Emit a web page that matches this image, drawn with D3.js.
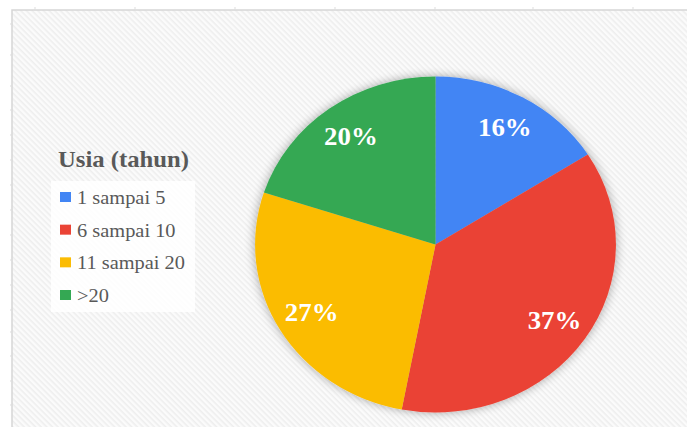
<!DOCTYPE html>
<html>
<head>
<meta charset="utf-8">
<script src="https://cdn.jsdelivr.net/npm/d3@7"></script>
<style>
  html, body { margin: 0; padding: 0; background: #ffffff; overflow: hidden; }
</style>
</head>
<body>
<div id="chart"></div>
<script>
let WIDTH = 687
let HEIGHT = 427

// data
let categories = ["1 sampai 5", "6 sampai 10", "11 sampai 20", ">20"]
let values = [16, 37, 27, 20]
let colors = ["#4285f4", "#ea4335", "#fbbc04", "#34a853"]
let legendTitle = "Usia (tahun)"
let topTicks = [35, 135, 235, 335, 435, 533, 633]
let leftTicks = [24, 55, 86, 110, 135, 160, 185, 210, 235, 260, 285, 310, 332, 356, 381, 405]

let FONT = '"Liberation Serif", monospace'
let STRETCH = 1.074   // the whole chart is a bit wider than tall
let cx = 435.5, cy = 244.5, R = 168

let svg = d3.select("#chart")
    .append('svg')
    .attr('width', WIDTH)
    .attr('height', HEIGHT)

let defs = svg.append('defs')

// diagonal stripes of the plot area
let pat = defs.append('pattern')
    .attr('id', 'stripes')
    .attr('width', 4)
    .attr('height', 4)
    .attr('patternUnits', 'userSpaceOnUse')
    .attr('patternTransform', 'rotate(45)')
pat.append('rect').attr('width', 4).attr('height', 4).attr('fill', '#fbfbfb')
pat.append('rect').attr('width', 4).attr('height', 1.6).attr('fill', '#eeeeee')

let shadow = defs.append('filter')
    .attr('id', 'shadow')
    .attr('x', '-20%').attr('y', '-20%')
    .attr('width', '140%').attr('height', '140%')
shadow.append('feGaussianBlur').attr('in', 'SourceAlpha').attr('stdDeviation', 5).attr('result', 'blur')
shadow.append('feComponentTransfer').append('feFuncA').attr('type', 'linear').attr('slope', 0.35)
let merge = shadow.append('feMerge')
merge.append('feMergeNode')
merge.append('feMergeNode').attr('in', 'SourceGraphic')

// frame + ruler ticks
svg.append('rect')
    .attr('x', 12).attr('y', 10)
    .attr('width', WIDTH).attr('height', HEIGHT)
    .attr('fill', 'url(#stripes)')
    .attr('stroke', '#d6d6d6')
    .attr('stroke-width', 1.5)

svg.selectAll('.ttick').data(topTicks).enter()
    .append('line')
    .attr('x1', d => d).attr('x2', d => d)
    .attr('y1', 7).attr('y2', 10)
    .attr('stroke', '#dddddd')
svg.selectAll('.ltick').data(leftTicks).enter()
    .append('line')
    .attr('x1', 10).attr('x2', 12)
    .attr('y1', d => d).attr('y2', d => d)
    .attr('stroke', '#dddddd')

// pie
let pie = d3.pie().sort(null).value(d => d)
let arcs = pie(values)
let arc = d3.arc().innerRadius(0).outerRadius(R)
let labelArc = d3.arc().innerRadius(134).outerRadius(134)

let g = svg.append('g')
    .attr('transform', `translate(${cx},${cy}) scale(${STRETCH},1)`)

g.append('g')
    .attr('filter', 'url(#shadow)')
    .selectAll('path')
    .data(arcs)
    .enter()
    .append('path')
    .attr('d', arc)
    .attr('fill', (d, i) => colors[i])

g.selectAll('.lbl')
    .data(arcs)
    .enter()
    .append('text')
    .attr('transform', d => `translate(${labelArc.centroid(d)})`)
    .attr('text-anchor', 'middle')
    .attr('dy', '0.35em')
    .attr('fill', '#ffffff')
    .attr('font-weight', 'bold')
    .attr('font-size', 25)
    .style('font-family', FONT)
    .text(d => d.value + '%')

// legend
svg.append('text')
    .attr('transform', `translate(58,167) scale(${STRETCH},1)`)
    .attr('fill', '#595959')
    .attr('font-weight', 'bold')
    .attr('font-size', 23)
    .style('font-family', FONT)
    .text(legendTitle)

svg.append('rect')
    .attr('x', 51).attr('y', 181)
    .attr('width', 144).attr('height', 131)
    .attr('fill', '#ffffff')
    .attr('fill-opacity', 0.85)

let rowY = d3.scalePoint().domain(categories).range([204, 302])

let item = svg.selectAll('.item')
    .data(categories)
    .enter()
    .append('g')
    .attr('transform', d => `translate(0,${rowY(d)})`)

item.append('rect')
    .attr('x', 60).attr('y', -12)
    .attr('width', 11).attr('height', 10)
    .attr('fill', (d, i) => colors[i])

item.append('text')
    .attr('transform', `translate(77,0) scale(${STRETCH},1)`)
    .attr('fill', '#595959')
    .attr('font-size', 19)
    .style('font-family', FONT)
    .text(d => d)
</script>
</body>
</html>
